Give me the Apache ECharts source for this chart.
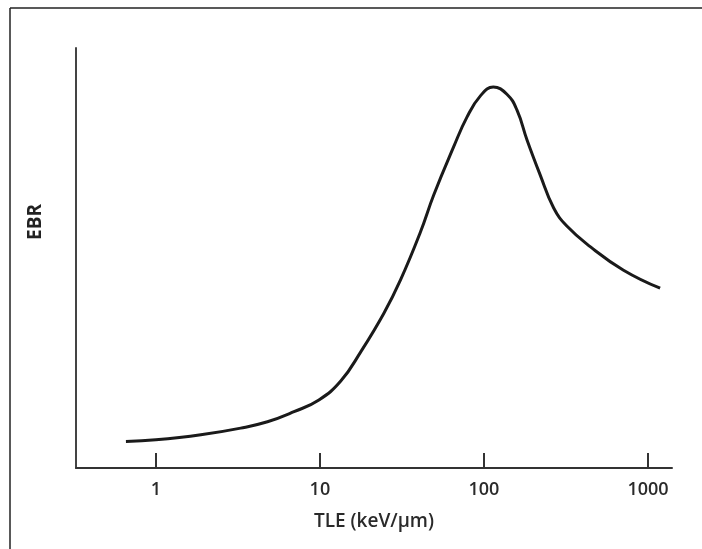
<!DOCTYPE html>
<html>
<head>
<meta charset="utf-8">
<script src="https://cdn.jsdelivr.net/npm/echarts@6/dist/echarts.min.js"></script>
<style>
html,body{margin:0;padding:0;background:#fff;}
#chart{width:702px;height:549px;}
</style>
</head>
<body>
<div id="chart"></div>
<script>
// TLE values (keV/µm)
const tle = [0.657, 1, 1.88, 3.29, 4.79, 6.95, 9.86, 13.4, 17.7, 24.5, 31.0, 41.0, 49.4, 65.4, 78.9, 95.1, 114, 138, 159, 183, 220, 266, 320, 444, 709, 1185];
// EBR (arbitrary units, 0-100 of the axis height)
const ebr = [6.3, 6.7, 7.9, 9.5, 11.0, 13.4, 16.2, 20.7, 27.6, 36.8, 44.8, 56.2, 65.0, 76.5, 83.6, 88.6, 90.7, 89.0, 85.2, 78.1, 69.8, 61.9, 57.6, 52.7, 47.1, 42.8];
// Tick labels on the x axis
const tickLabels = [1, 10, 100, 1000];

const xMin = 0.326, xMax = 1400;
const data = tle.map((t, i) => [Math.log10(t), ebr[i]]);
const tickPos = tickLabels.map(v => Math.log10(v));

const chart = echarts.init(document.getElementById('chart'), null, {renderer: 'canvas'});
chart.setOption({
  animation: false,
  backgroundColor: '#fff',
  textStyle: {fontFamily: 'Open Sans'},
  grid: {left: 76, right: 30, top: 48, bottom: 81, containLabel: false},
  xAxis: {
    type: 'value',
    min: Math.log10(xMin),
    max: Math.log10(xMax),
    name: 'TLE (keV/µm)',
    nameLocation: 'middle',
    nameGap: 44,
    nameTextStyle: {fontSize: 19, fontWeight: 600, color: '#2a2a2a', fontFamily: 'Open Sans'},
    axisLine: {show: true, onZero: false, lineStyle: {color: '#333', width: 2}},
    axisTick: {show: true, inside: true, length: 15, lineStyle: {color: '#333', width: 2}, customValues: tickPos},
    axisLabel: {show: true, fontSize: 18, fontWeight: 600, color: '#2a2a2a', margin: 13, customValues: tickPos,
      formatter: v => String(Math.round(Math.pow(10, v)))},
    splitLine: {show: false}
  },
  yAxis: {
    type: 'value',
    min: 0,
    max: 100,
    name: 'EBR',
    nameLocation: 'middle',
    nameRotate: 90,
    nameGap: 31,
    nameTextStyle: {fontSize: 19, fontWeight: 'bold', color: '#222', fontFamily: 'Open Sans', padding: [0, 0, 0, 72]},
    axisLine: {show: true, onZero: false, lineStyle: {color: '#444', width: 2}},
    axisTick: {show: false},
    axisLabel: {show: false},
    splitLine: {show: false}
  },
  graphic: [
    {type: 'line', shape: {x1: 10, y1: 8, x2: 702, y2: 8}, style: {stroke: '#222', lineWidth: 1.5}},
    {type: 'line', shape: {x1: 10, y1: 8, x2: 10, y2: 549}, style: {stroke: '#222', lineWidth: 1.5}}
  ],
  series: [{
    type: 'line',
    data: data,
    smooth: 0.45,
    showSymbol: false,
    lineStyle: {color: '#1a1a1a', width: 3}
  }]
});
</script>
</body>
</html>
